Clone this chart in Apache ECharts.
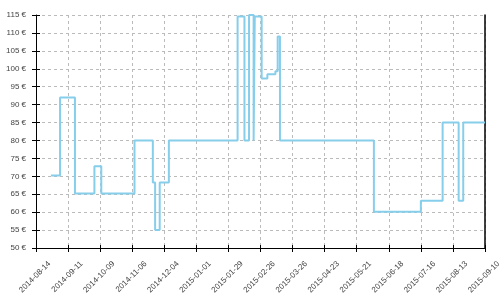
<!DOCTYPE html>
<html>
<head>
<meta charset="utf-8">
<script src="https://cdn.jsdelivr.net/npm/echarts@6/dist/echarts.min.js"></script>
<style>html,body{margin:0;padding:0;background:#fff}#c{width:500px;height:300px}</style>
</head>
<body>
<div id="c"></div>
<script>
// Price change dates and the new price from that date on (step chart)
const dates = ['2014-08-27','2014-09-04','2014-09-17','2014-10-04','2014-10-10','2014-11-08',
  '2014-11-24','2014-11-26','2014-11-30','2014-12-08','2015-02-06','2015-02-12','2015-02-16',
  '2015-02-20','2015-02-21','2015-02-27','2015-03-04','2015-03-11','2015-03-13','2015-03-15',
  '2015-06-05','2015-07-16','2015-08-04','2015-08-18','2015-08-22','2015-09-10'];
const prices = [70.2,92,65.2,72.8,65.2,80,
  68.3,55,68.3,80,114.6,80,115,
  80,114.6,97.3,98.5,99.3,109,80,
  60.1,63.2,85,63.2,85,85];
const axisStart = '2014-08-14';
const axisEnd = '2015-09-10';
const tickDays = 28;
const yMin = 50, yMax = 115, yStep = 5;

const DAY = 86400000;
const t0 = Date.parse(axisStart + 'T00:00:00Z');
const toDay = s => Math.round((Date.parse(s + 'T00:00:00Z') - t0) / DAY);
const fmtDay = d => new Date(t0 + d * DAY).toISOString().slice(0, 10);
const data = dates.map((d, i) => [toDay(d), prices[i]]);
const xMax = toDay(axisEnd);

const font = { fontFamily: 'Liberation Sans, Arial, sans-serif', fontSize: 8, color: '#444' };
const chart = echarts.init(document.getElementById('c'), null, { renderer: 'canvas' });
chart.setOption({
  animation: false,
  grid: { left: 36, right: 15, top: 15, bottom: 52, containLabel: false, outerBoundsMode: 'none' },
  xAxis: [{
    type: 'value', min: 0, max: xMax, interval: tickDays, position: 'bottom',
    axisLine: { show: true, onZero: false, lineStyle: { color: '#000', width: 1 } },
    axisTick: { show: true, inside: false, length: 4, lineStyle: { color: '#000' } },
    axisLabel: Object.assign({ rotate: 45, margin: 1, formatter: v => fmtDay(v),
      verticalAlign: 'top', padding: [15, 0, 0, 0], showMinLabel: true, showMaxLabel: true }, font),
    splitLine: { show: true, lineStyle: { color: '#bbb', type: [3, 3] } }
  }, {
    type: 'value', min: 0, max: xMax, interval: tickDays, position: 'bottom',
    axisLine: { show: false },
    axisTick: { show: true, inside: true, length: 3, lineStyle: { color: '#000' } },
    axisLabel: { show: false }, splitLine: { show: false }
  }],
  yAxis: [{
    type: 'value', min: yMin, max: yMax, interval: yStep, position: 'left',
    axisLine: { show: true, onZero: false, lineStyle: { color: '#000', width: 1 } },
    axisTick: { show: true, inside: false, length: 4, lineStyle: { color: '#000' } },
    axisLabel: Object.assign({ margin: 10, formatter: v => v + ' €' }, font),
    splitLine: { show: true, lineStyle: { color: '#bbb', type: [3, 3] } }
  }, {
    type: 'value', min: yMin, max: yMax, interval: yStep, position: 'left',
    axisLine: { show: false },
    axisTick: { show: true, inside: true, length: 4, lineStyle: { color: '#000' } },
    axisLabel: { show: false }, splitLine: { show: false }
  }, {
    type: 'value', min: yMin, max: yMax, interval: yStep, position: 'right',
    axisLine: { show: true, onZero: false, lineStyle: { color: '#000', width: 1.5 } },
    axisTick: { show: false }, axisLabel: { show: false }, splitLine: { show: false }
  }],
  series: [{
    type: 'line', step: 'end', data: data, xAxisIndex: 0, yAxisIndex: 0,
    showSymbol: false, symbol: 'none',
    lineStyle: { color: '#87CEEB', width: 2 }
  }]
});
</script>
</body>
</html>
